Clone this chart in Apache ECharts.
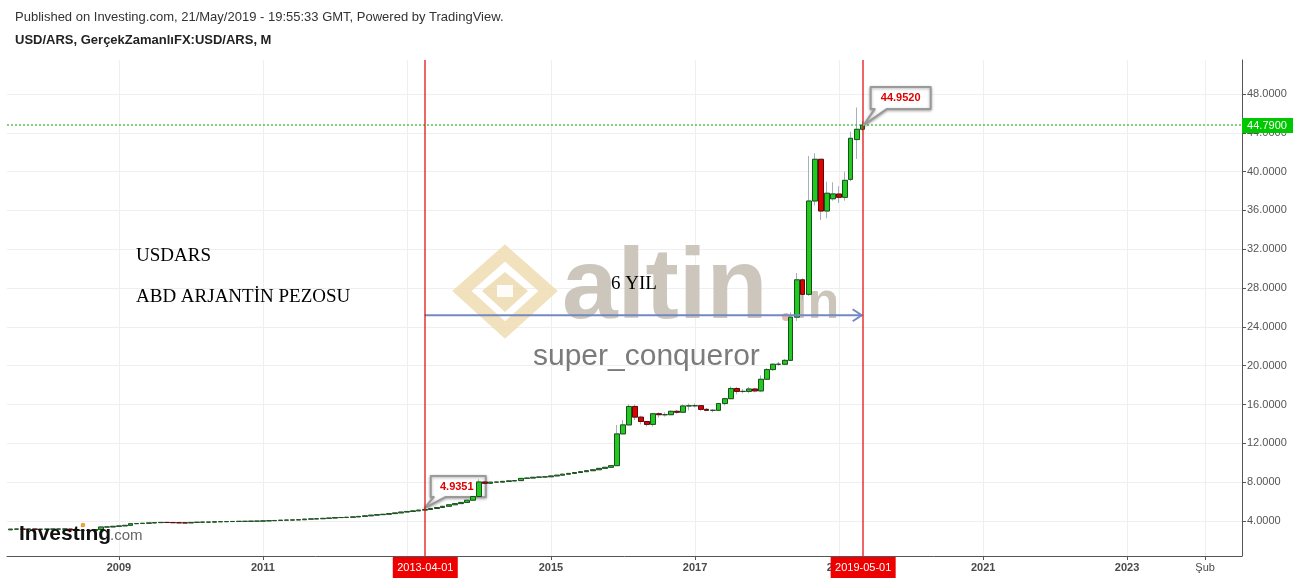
<!DOCTYPE html>
<html><head><meta charset="utf-8">
<script src="https://cdn.jsdelivr.net/npm/echarts@6/dist/echarts.min.js"></script>
<style>html,body{margin:0;padding:0;background:#fff}#c{width:1299px;height:580px}</style>
</head><body><div id="c"></div>
<script>
// ---------- DATA (monthly USD/ARS, first month 2007-06) ----------
const firstYear = 2007, firstMonth = 6;
const opens = [
  3.08,3.09,3.16,3.16,3.15,3.17,3.14,
  3.15,3.16,3.16,3.17,3.17,3.06,3.03,3.03,3.02,3.12,3.38,3.38,
  3.45,3.49,3.55,3.72,3.74,3.76,3.80,3.83,3.85,3.84,3.82,3.81,
  3.80,3.85,3.87,3.88,3.88,3.92,3.93,3.94,3.95,3.96,3.96,3.98,
  3.98,4.01,4.03,4.05,4.08,4.09,4.11,4.13,4.19,4.21,4.23,4.27,
  4.30,4.35,4.36,4.38,4.42,4.47,4.53,4.60,4.65,4.69,4.76,4.83,
  4.92,4.98,5.04,5.12,5.18,5.28,5.39,5.51,5.67,5.79,5.91,6.14,
  6.52,8.02,7.88,8.00,8.00,8.08,8.13,8.16,8.39,8.42,8.50,8.53,
  8.55,8.64,8.72,8.82,8.90,8.99,9.08,9.18,9.28,9.42,9.53,9.70,
  12.97,13.90,15.80,14.70,14.25,13.95,15.05,14.95,14.95,15.30,15.20,15.85,
  15.87,15.88,15.50,15.40,15.40,16.10,16.60,17.65,17.35,17.35,17.60,17.40,
  18.60,19.60,20.15,20.15,20.55,25.00,28.85,27.35,36.97,41.27,35.94,37.20,
  37.69,37.35,39.20,43.30,44.36
];
const closes = [
  3.09,3.16,3.16,3.15,3.17,3.14,3.15,
  3.16,3.16,3.17,3.17,3.06,3.03,3.03,3.02,3.12,3.38,3.38,3.45,
  3.49,3.55,3.72,3.74,3.76,3.80,3.83,3.85,3.84,3.82,3.81,3.80,
  3.85,3.87,3.88,3.88,3.92,3.93,3.94,3.95,3.96,3.96,3.98,3.98,
  4.01,4.03,4.05,4.08,4.09,4.11,4.13,4.19,4.21,4.23,4.27,4.30,
  4.35,4.36,4.38,4.42,4.47,4.53,4.60,4.65,4.69,4.76,4.83,4.92,
  4.98,5.04,5.12,5.18,5.28,5.39,5.51,5.67,5.79,5.91,6.14,6.52,
  8.02,7.88,8.00,8.00,8.08,8.13,8.16,8.39,8.42,8.50,8.53,8.55,
  8.64,8.72,8.82,8.90,8.99,9.08,9.18,9.28,9.42,9.53,9.70,12.97,
  13.90,15.80,14.70,14.25,13.95,15.05,14.95,14.95,15.30,15.20,15.85,15.87,
  15.88,15.50,15.40,15.40,16.10,16.60,17.65,17.35,17.35,17.60,17.40,18.60,
  19.60,20.15,20.15,20.55,25.00,28.85,27.35,36.97,41.27,35.94,37.77,37.70,
  37.35,39.10,43.43,44.36,44.79
];
const lows = [
  3.07,3.08,3.13,3.14,3.14,3.13,3.13,
  3.14,3.15,3.15,3.15,3.05,3.01,3.01,3.01,3.02,3.12,3.33,3.37,
  3.44,3.48,3.55,3.70,3.73,3.75,3.79,3.82,3.83,3.80,3.79,3.79,
  3.79,3.84,3.86,3.87,3.87,3.91,3.92,3.93,3.94,3.94,3.95,3.96,
  3.97,4.00,4.02,4.04,4.07,4.08,4.10,4.12,4.18,4.20,4.22,4.26,
  4.29,4.34,4.35,4.37,4.41,4.46,4.52,4.59,4.64,4.68,4.75,4.82,
  4.91,4.97,5.03,5.11,5.17,5.27,5.38,5.50,5.66,5.78,5.90,6.13,
  6.51,7.75,7.85,7.97,7.98,8.05,8.10,8.15,8.37,8.41,8.48,8.50,
  8.54,8.63,8.71,8.81,8.89,8.98,9.07,9.17,9.27,9.41,9.52,9.70,
  12.95,13.85,14.40,13.95,13.75,13.75,14.65,14.75,14.90,15.05,15.15,15.40,
  15.70,15.35,15.35,15.20,15.35,15.90,16.55,17.05,17.15,17.20,17.25,17.30,
  18.55,19.45,20.00,20.05,20.50,24.60,26.80,27.20,36.50,35.00,35.20,37.00,
  36.77,37.00,39.00,41.30,44.20
];
const highs = [
  3.10,3.17,3.20,3.17,3.18,3.17,3.16,
  3.17,3.17,3.18,3.18,3.17,3.07,3.05,3.05,3.15,3.40,3.41,3.46,
  3.50,3.56,3.73,3.75,3.77,3.81,3.84,3.86,3.86,3.85,3.83,3.82,
  3.86,3.88,3.89,3.89,3.93,3.94,3.95,3.96,3.97,3.97,3.99,3.99,
  4.02,4.04,4.06,4.09,4.10,4.12,4.14,4.20,4.22,4.24,4.28,4.31,
  4.36,4.37,4.39,4.43,4.48,4.54,4.61,4.66,4.70,4.77,4.84,4.93,
  4.99,5.05,5.13,5.19,5.29,5.40,5.52,5.68,5.80,5.92,6.15,6.53,
  8.30,8.05,8.02,8.05,8.09,8.15,8.20,8.40,8.45,8.51,8.54,8.58,
  8.65,8.73,8.83,8.91,9.00,9.09,9.19,9.29,9.43,9.54,9.75,13.90,
  14.40,16.00,16.00,14.85,14.30,15.10,15.20,15.20,15.40,15.45,16.00,16.10,
  16.10,15.95,15.65,15.50,16.15,16.70,17.85,17.80,17.60,17.80,17.70,19.00,
  19.75,20.25,20.40,20.70,25.50,29.55,29.00,41.60,41.90,41.30,38.96,38.90,
  38.50,40.00,44.10,46.60,45.20
];
const yTicks = [4,8,12,16,20,24,28,32,36,40,44,48];
const xTickDates = ['2009-01-01','2011-01-01','2013-01-01','2015-01-01','2017-01-01','2019-01-01','2021-01-01','2023-01-01','2024-02-01'];
const xTickLabels = ['2009','2011','2013','2015','2017','2019','2021','2023','Şub'];
const markerDates = ['2013-04-01','2019-05-01'];
const lastPrice = 44.79;
const lastPriceText = '44.7900';
const calloutHigh = { date: '2019-05-01', value: 44.79, text: '44.9520' };
const calloutLow = { date: '2013-04-01', value: 5.34, text: '4.9351' };
const arrowValue = 25.2;
const xMinDate = '2007-06-13', xMaxDate = '2024-08-06';
const yMin = 0.39, yMax = 51.5;

// ---------- helpers ----------
function ts(s) { const p = s.split('-').map(Number); return Date.UTC(p[0], p[1] - 1, p[2] || 1); }
const months = [];
for (let i = 0; i < opens.length; i++) {
  const k = firstMonth - 1 + i;
  months.push(ts((firstYear + Math.floor(k / 12)) + '-' + (k % 12 + 1) + '-1'));
}
const wickData = months.map((t, i) => [t, opens[i], closes[i], lows[i], highs[i]]);
const bodyData = months.map((t, i) => [t, opens[i], closes[i], Math.min(opens[i], closes[i]), Math.max(opens[i], closes[i])]);
const xTickTs = xTickDates.map(ts);

const FONT = '"Liberation Sans", Arial, sans-serif';
const SERIF = '"Liberation Serif", "Times New Roman", serif';

const chart = echarts.init(document.getElementById('c'), null, { renderer: 'canvas' });
const option = {
  animation: false,
  backgroundColor: '#ffffff',
  grid: { left: 7, right: 57, top: 60, bottom: 24, containLabel: false, outerBoundsMode: 'none' },
  xAxis: {
    type: 'value',
    min: ts(xMinDate), max: ts(xMaxDate),
    axisLine: { show: true, onZero: false, lineStyle: { color: '#555', width: 1 } },
    axisTick: { show: true, length: 4, customValues: xTickTs, lineStyle: { color: '#555' } },
    axisLabel: {
      customValues: xTickTs, margin: 6, color: '#4a4a4a', fontSize: 11, fontFamily: FONT,
      formatter: function (v) {
        let i = -1;
        for (let j = 0; j < xTickTs.length; j++) if (Math.abs(xTickTs[j] - v) < 86400000) i = j;
        if (i < 0) return '';
        return i === xTickTs.length - 1 ? '{n|' + xTickLabels[i] + '}' : '{b|' + xTickLabels[i] + '}';
      },
      rich: { b: { fontWeight: 'bold', fontSize: 11, color: '#4a4a4a', fontFamily: FONT }, n: { fontWeight: 'normal', fontSize: 11, color: '#4a4a4a', fontFamily: FONT } }
    },
    splitLine: { show: true, lineStyle: { color: '#efefef', width: 1 } }
  },
  yAxis: {
    type: 'value', position: 'right', scale: true,
    min: yMin, max: yMax,
    axisLine: { show: true, onZero: false, lineStyle: { color: '#555', width: 1 } },
    axisTick: { show: true, length: 4, customValues: yTicks, lineStyle: { color: '#555' } },
    axisLabel: { customValues: yTicks, margin: 5, color: '#555', fontSize: 11, fontFamily: FONT, formatter: v => v.toFixed(4) },
    splitLine: { show: true, lineStyle: { color: '#efefef', width: 1 } }
  },
  series: [
    {
      type: 'candlestick', name: 'wick', data: wickData, barWidth: 5, z: 2,
      encode: { x: 0, y: [1, 2, 3, 4] },
      itemStyle: { color: 'rgba(0,0,0,0)', color0: 'rgba(0,0,0,0)', borderColor: '#a6b0bd', borderColor0: '#a6b0bd', borderWidth: 1 },
      silent: true
    },
    {
      type: 'candlestick', name: 'USD/ARS', data: bodyData, barWidth: 5, z: 3,
      encode: { x: 0, y: [1, 2, 3, 4] },
      itemStyle: { color: '#1ecb1e', color0: '#e00000', borderColor: '#1f4f1f', borderColor0: '#5a0a0a', borderWidth: 1 },
      silent: true
    }
  ]
};
chart.setOption(option);

function P(d, v) { return chart.convertToPixel({ gridIndex: 0 }, [ts(d), v]); }
const g = [];
function T(x, y, text, font, fill, z, extra) {
  g.push({ type: 'text', z: z, x: x, y: y, style: Object.assign({ text: text, font: font, fill: fill, verticalAlign: 'middle' }, extra || {}) });
}
T(15, 17, 'Published on Investing.com, 21/May/2019 - 19:55:33 GMT, Powered by TradingView.', '13px ' + FONT, '#333', 10);
T(15, 40, 'USD/ARS, GerçekZamanlıFX:USD/ARS, M', 'bold 13px ' + FONT, '#222', 10);
// watermark logo
g.push({ type: 'polygon', z: 1, shape: { points: [[505, 253], [548, 291], [505, 330], [462, 291]] }, style: { fill: 'none', stroke: '#efdcb0', lineWidth: 13, opacity: 0.85 } });
g.push({ type: 'polygon', z: 1, shape: { points: [[505, 272], [528, 291], [505, 312], [482, 291]] }, style: { fill: '#e8d29c', opacity: 0.7 } });
g.push({ type: 'polygon', z: 1, shape: { points: [[497, 285], [513, 285], [513, 297], [497, 297]] }, style: { fill: '#ffffff', opacity: 0.9 } });
T(562, 290, 'altin', 'bold 100px ' + FONT, '#c9c3b8', 1, { opacity: 0.95 });
g.push({ type: 'circle', z: 1, shape: { cx: 786, cy: 317, r: 4 }, style: { fill: '#e3b9b0' } });
T(793, 304, 'in', 'bold 52px ' + FONT, '#cbc5ba', 1);
T(533, 357, 'super_conqueror', '30px ' + FONT, '#7b7b7b', 1);
// annotations
T(136, 256, 'USDARS', '19px ' + SERIF, '#000', 6);
T(136, 297, 'ABD ARJANTİN PEZOSU', '19px ' + SERIF, '#000', 6);
T(611, 284, '6 YIL', '19px ' + SERIF, '#000', 6);
// last price dotted line (green)
const lpL = P(xMinDate, lastPrice), lpR = P(xMaxDate, lastPrice);
g.push({ type: 'line', z: 5, shape: { x1: lpL[0], y1: Math.round(lpL[1]), x2: lpR[0], y2: Math.round(lpL[1]) }, style: { stroke: '#00a800', lineWidth: 1, lineDash: [2, 2] } });
// red vertical marker lines
markerDates.forEach(d => {
  const top = P(d, yMax), bot = P(d, yMin);
  const x = Math.round(top[0]);
  g.push({ type: 'line', z: 5, shape: { x1: x, y1: top[1], x2: x, y2: bot[1] }, style: { stroke: '#e00000', lineWidth: 1.2 } });
});
// arrow
const a1 = P(markerDates[0], arrowValue), a2 = P(markerDates[1], arrowValue);
g.push({ type: 'line', z: 4, shape: { x1: a1[0], y1: a1[1], x2: a2[0] - 1, y2: a2[1] }, style: { stroke: '#7389c2', lineWidth: 2 } });
g.push({ type: 'polyline', z: 4, shape: { points: [[a2[0] - 10, a2[1] - 6], [a2[0] - 1, a2[1]], [a2[0] - 10, a2[1] + 6]] }, style: { stroke: '#7389c2', lineWidth: 2, fill: 'none' } });
// callouts
const ch = P(calloutHigh.date, calloutHigh.value);
g.push({ type: 'polygon', z: 7, shape: { points: [[ch[0] + 8, ch[1] - 38], [ch[0] + 68, ch[1] - 38], [ch[0] + 68, ch[1] - 16], [ch[0] + 24, ch[1] - 16], [ch[0] + 1, ch[1]], [ch[0] + 12, ch[1] - 16], [ch[0] + 8, ch[1] - 16]] }, style: { fill: '#fff', stroke: '#9a9a9a', lineWidth: 2, lineJoin: 'round', shadowBlur: 3, shadowColor: 'rgba(0,0,0,0.3)', shadowOffsetY: 1 } });
T(ch[0] + 38, ch[1] - 27, calloutHigh.text, 'bold 11px ' + FONT, '#e00000', 8, { align: 'center' });
const cl = P(calloutLow.date, calloutLow.value);
g.push({ type: 'polygon', z: 2, shape: { points: [[cl[0] + 6, cl[1] - 32], [cl[0] + 61, cl[1] - 32], [cl[0] + 61, cl[1] - 11], [cl[0] + 21, cl[1] - 11], [cl[0], cl[1]], [cl[0] + 9, cl[1] - 11], [cl[0] + 6, cl[1] - 11]] }, style: { fill: '#fff', stroke: '#9a9a9a', lineWidth: 2, lineJoin: 'round', shadowBlur: 3, shadowColor: 'rgba(0,0,0,0.3)', shadowOffsetY: 1 } });
T(cl[0] + 32, cl[1] - 21, calloutLow.text, 'bold 11px ' + FONT, '#e00000', 2, { align: 'center' });
// red date labels
markerDates.forEach(d => {
  const p = P(d, yMin);
  g.push({ type: 'rect', z: 9, shape: { x: p[0] - 32, y: 557, width: 65, height: 21 }, style: { fill: '#ee0000' } });
  T(p[0] + 0.5, 567.5, d, '11px ' + FONT, '#fff', 10, { align: 'center' });
});
// green last-price label
const lp = P('2019-05-01', lastPrice);
g.push({ type: 'rect', z: 9, shape: { x: 1242, y: lp[1] - 7, width: 51, height: 15 }, style: { fill: '#00c800' } });
T(1267, lp[1] + 0.5, lastPriceText, '11px ' + FONT, '#fff', 10, { align: 'center' });
// Investing.com logo
T(19, 534, 'Investing', 'bold 21px ' + FONT, '#111', 10);
g.push({ type: 'circle', z: 11, shape: { cx: 83, cy: 525, r: 2.3 }, style: { fill: '#f0a040' } });
T(110, 536, '.com', '15px ' + FONT, '#666', 10);

chart.setOption({ graphic: { elements: g } });
</script></body></html>
